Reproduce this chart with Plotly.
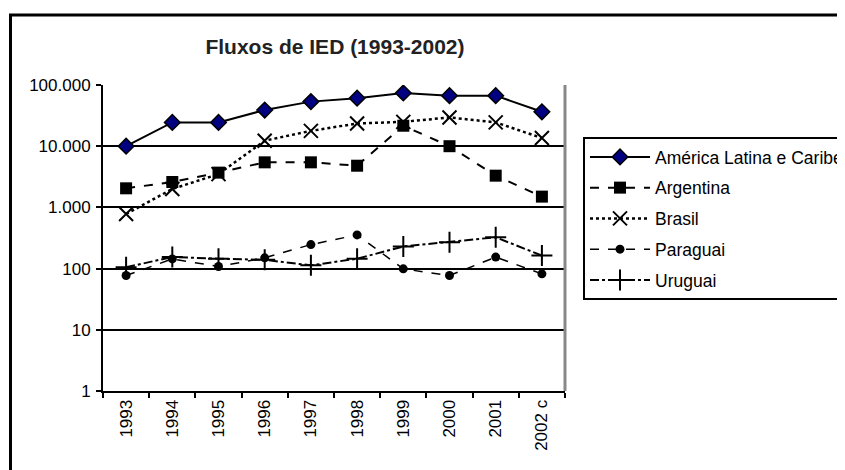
import plotly.graph_objects as go

years = ["1993", "1994", "1995", "1996", "1997", "1998", "1999", "2000", "2001", "2002 c"]
alc = [10000, 24500, 24500, 39000, 53500, 61000, 74000, 67000, 67000, 36500]
argentina = [2050, 2600, 3700, 5450, 5450, 4800, 21600, 10000, 3300, 1500]
brasil = [780, 2000, 3500, 12300, 17800, 23500, 25000, 29500, 24500, 13600]
paraguai = [77, 144, 108, 150, 247, 355, 99, 77, 154, 82]
uruguai = [105, 155, 145, 139, 113, 145, 230, 270, 325, 163]

y_tickvals = [1, 10, 100, 1000, 10000, 100000]
y_ticktext = ["1", "10", "100", "1.000", "10.000", "100.000"]
grid_vals = [10, 100, 1000, 10000]

FONT = "Arial, Liberation Sans, sans-serif"
OFF = 8  # page body margin offset

# plot area in page pixels
PL, PR, PT, PB = 103, 565, 85, 391
W, H = 845, 470

fig = go.Figure()
series = [
    ("América Latina e Caribe", alc, dict(color="black", width=2, dash="solid"),
     dict(symbol="diamond", size=12, color="#000080", line=dict(color="black", width=1.5))),
    ("Argentina", argentina, dict(color="black", width=2, dash="dash"),
     dict(symbol="square", size=12, color="black")),
    ("Brasil", brasil, dict(color="black", width=2.5, dash="dot"),
     dict(symbol="x-thin-open", size=14, color="black", line=dict(color="black", width=2))),
    ("Paraguai", paraguai, dict(color="black", width=1.5, dash="dash"),
     dict(symbol="circle", size=9, color="black")),
    ("Uruguai", uruguai, dict(color="black", width=2, dash="dashdot"),
     dict(symbol="cross-thin-open", size=15, color="black", line=dict(color="black", width=2))),
]
for i, (name, vals, ln, mk) in enumerate(series):
    fig.add_trace(go.Scatter(x=years, y=vals, name=name, mode="lines+markers",
                             line=ln, marker=mk, legendgroup=f"g{i}"))

pw = PR - PL
ph = PB - PT
fig.update_layout(
    width=W, height=H,
    margin=dict(l=PL - OFF, r=W - (PR - OFF), t=PT - OFF, b=H - (PB - OFF), autoexpand=False),
    paper_bgcolor="white", plot_bgcolor="white",
    font=dict(family=FONT, color="black", size=16),
    title=dict(text="<b>Fluxos de IED (1993-2002)</b>", x=(335 - OFF) / W, xref="container", xanchor="center",
               y=1 - (47 - OFF) / H, yref="container", yanchor="middle",
               font=dict(family=FONT, size=21, color="#222")),
    showlegend=True,
    legend=dict(x=(583 - PL) / pw, y=(PB - 137) / ph, xanchor="left", yanchor="top",
                bordercolor="black", borderwidth=2, bgcolor="white",
                font=dict(family=FONT, size=17.5, color="black"),
                tracegroupgap=5, itemwidth=60, traceorder="grouped"),
    xaxis=dict(type="category", showgrid=False, showline=True, linecolor="black", linewidth=2,
               ticks="outside", tickson="boundaries", ticklen=5, tickwidth=2, tickcolor="black",
               tickangle=-90, tickfont=dict(family=FONT, size=17, color="black"),
               range=[-0.5, 9.5], zeroline=False),
    yaxis=dict(type="log", range=[0, 5], tickmode="array", tickvals=y_tickvals, ticktext=y_ticktext,
               showgrid=False, showline=True, linecolor="black", linewidth=2,
               ticks="outside", ticklen=5, tickwidth=2, tickcolor="black", ticklabelstandoff=2,
               tickfont=dict(family=FONT, size=17, color="black"), zeroline=False,
               minor=dict(tickmode="array", tickvals=grid_vals, showgrid=True,
                          gridcolor="black", gridwidth=2, ticks="")),
    shapes=[
        dict(type="line", xref="paper", yref="paper", x0=1, x1=1, y0=0, y1=1,
             line=dict(color="#888", width=3)),
        dict(type="rect", xref="paper", yref="paper", x0=(10.5 - PL) / pw, x1=2.0,
             y0=-1.0, y1=(PB - 15) / ph, line=dict(color="black", width=3), layer="below"),
    ],
)

fig.write_html("out.html")
